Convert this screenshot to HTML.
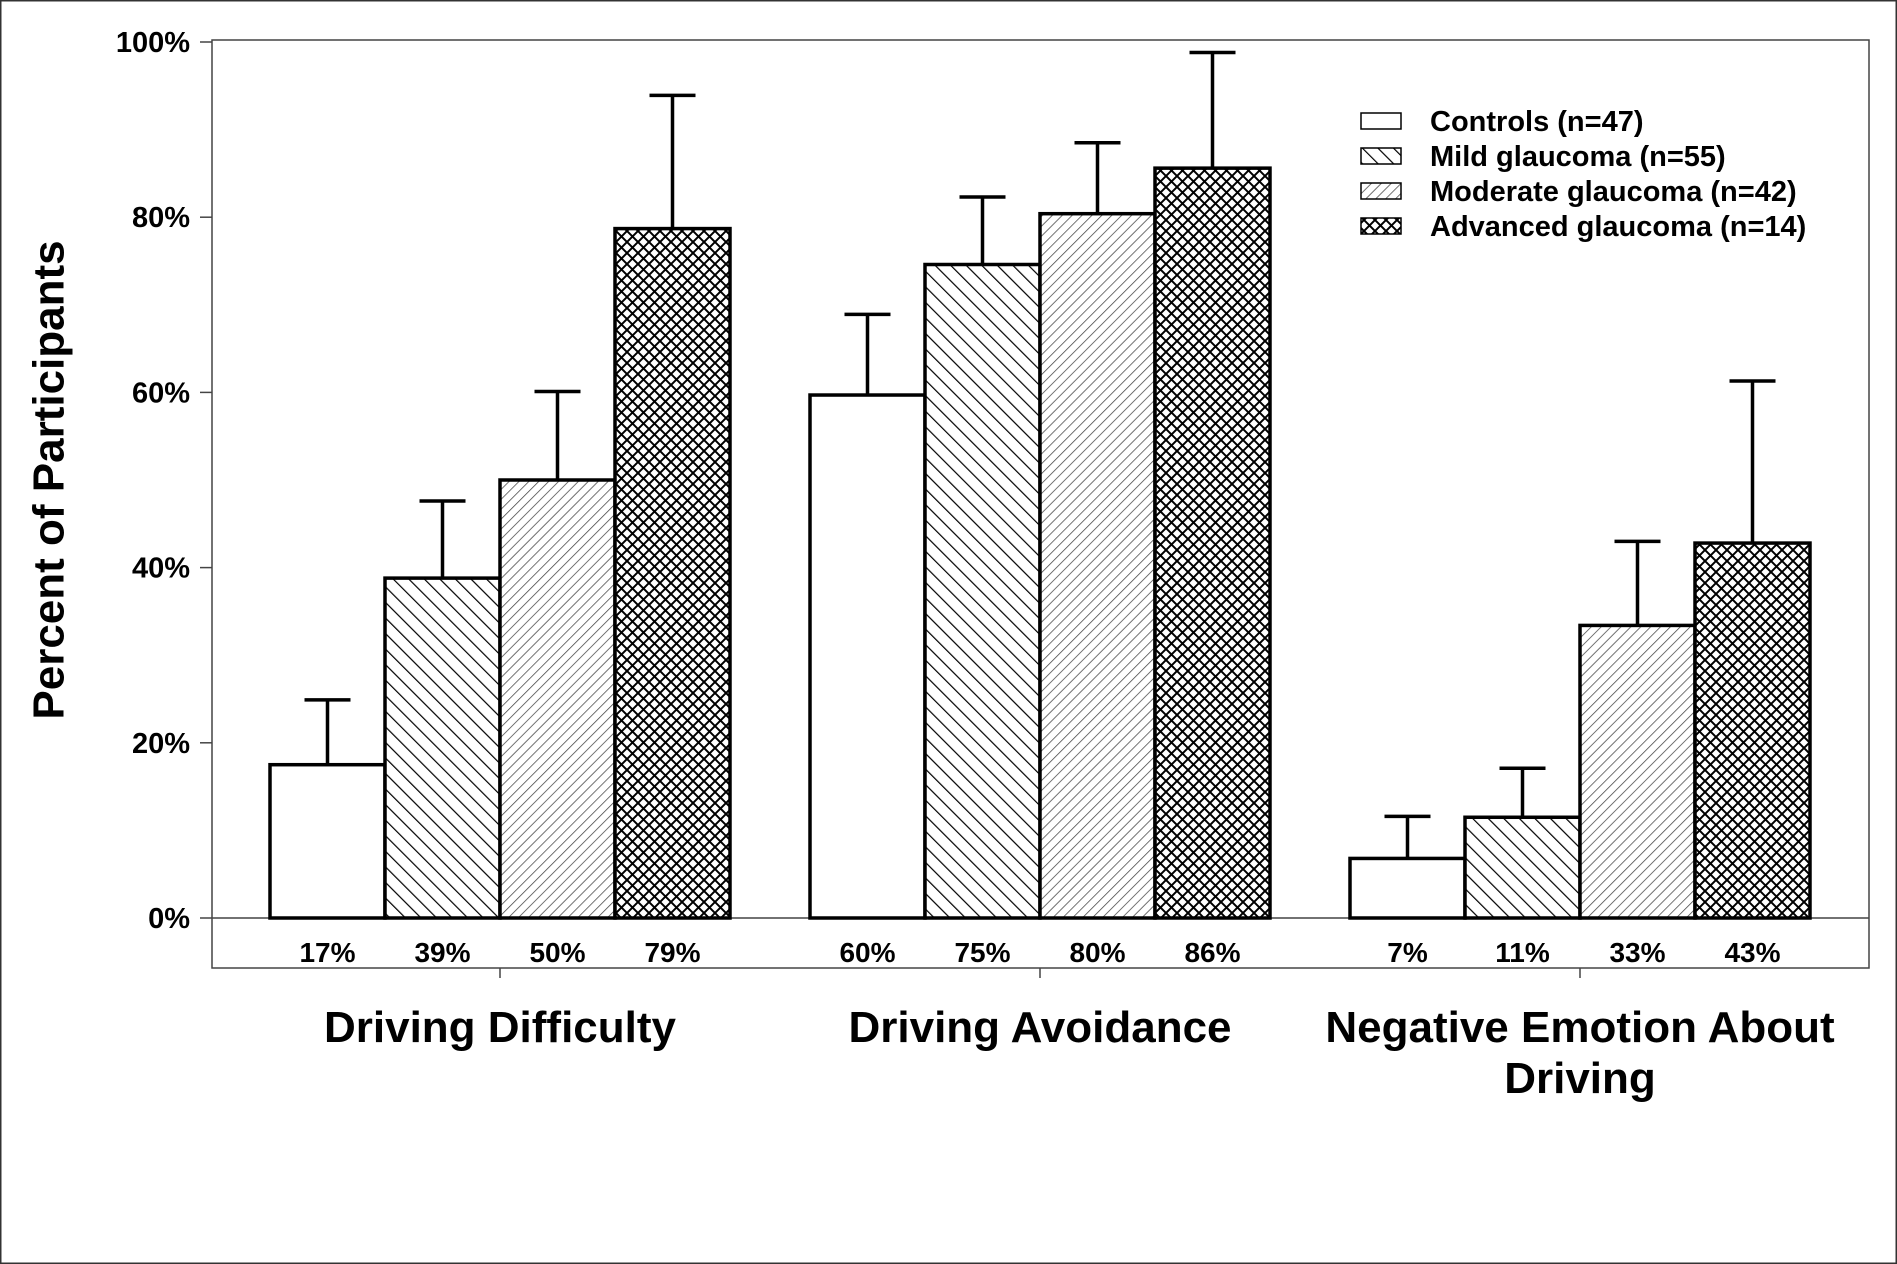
<!DOCTYPE html>
<html><head><meta charset="utf-8"><style>
html,body{margin:0;padding:0;background:#fff}
svg{display:block;font-family:"Liberation Sans",Arial,sans-serif}
</style></head><body>
<svg id="chart" width="1897" height="1264" viewBox="0 0 1897 1264" xmlns="http://www.w3.org/2000/svg">
<defs>
<pattern id="p-mild" patternUnits="userSpaceOnUse" width="11" height="11" patternTransform="rotate(-45)"><rect width="11" height="11" fill="#fff"/><line x1="0" y1="0" x2="0" y2="11" stroke="#000" stroke-width="2.4"/></pattern>
<pattern id="p-mod" patternUnits="userSpaceOnUse" width="7" height="7" patternTransform="rotate(45)"><rect width="7" height="7" fill="#fff"/><line x1="0" y1="0" x2="0" y2="7" stroke="#444" stroke-width="1.5"/></pattern>
<pattern id="p-adv" patternUnits="userSpaceOnUse" width="11" height="11"><rect width="11" height="11" fill="#fff"/><path d="M0 0 L11 11 M11 0 L0 11" stroke="#000" stroke-width="2"/></pattern>
</defs>
<rect x="0.5" y="0.5" width="1896" height="1263" fill="#fff" stroke="#333" stroke-width="2"/>
<rect x="212" y="40" width="1657" height="928" fill="none" stroke="#444" stroke-width="1.5"/>
<line x1="212" y1="918" x2="1869" y2="918" stroke="#444" stroke-width="1.5"/>
<g id="yaxis"></g>
<g id="bars"></g>
<text x="52" y="480" transform="rotate(-90 52 480)" text-anchor="middle" dominant-baseline="middle" font-size="44" font-weight="bold">Percent of Participants</text>
<g id="legend"></g>
</svg>
<script>
const categories = [["Driving Difficulty"],["Driving Avoidance"],["Negative Emotion About","Driving"]];
const seriesNames = ["Controls (n=47)","Mild glaucoma (n=55)","Moderate glaucoma (n=42)","Advanced glaucoma (n=14)"];
const difficulty = [17.5, 38.8, 50.0, 78.7];
const avoidance = [59.7, 74.6, 80.4, 85.6];
const emotion = [6.8, 11.5, 33.4, 42.8];
const errDifficulty = [24.9, 47.6, 60.1, 93.9];
const errAvoidance = [68.9, 82.3, 88.5, 98.8];
const errEmotion = [11.6, 17.1, 43.0, 61.3];
const valueLabels = [["17%","39%","50%","79%"],["60%","75%","80%","86%"],["7%","11%","33%","43%"]];
const yTicks = [0,20,40,60,80,100];

const NS="http://www.w3.org/2000/svg";
const fills=["#fff","url(#p-mild)","url(#p-mod)","url(#p-adv)"];
const y=v=>918-v*8.76;
const groupStart=[270,810,1350], bw=115;
function mk(tag,attrs,parent){const e=document.createElementNS(NS,tag);for(const k in attrs)e.setAttribute(k,attrs[k]);parent.appendChild(e);return e;}
const yaxis=document.getElementById('yaxis');
yTicks.forEach(t=>{
  const l=mk('line',{x1:200,x2:212,y1:y(t),y2:y(t),stroke:'#444','stroke-width':1.5},yaxis);
  
  
  const tx=mk('text',{x:190,y:y(t)+10,'text-anchor':'end','font-size':29,'font-weight':'bold'},yaxis);
  tx.textContent=t+'%';
  
  
});
const bars=document.getElementById('bars');
const vals=[difficulty,avoidance,emotion], errs=[errDifficulty,errAvoidance,errEmotion];
vals.forEach((arr,g)=>{
  arr.forEach((v,i)=>{
    const x=groupStart[g]+i*bw, cx=x+bw/2;
    const e=mk('line',{x1:cx,x2:cx,y1:y(errs[g][i]),y2:y(v),stroke:'#000','stroke-width':3.5},bars);
    
    
    const c=mk('line',{x1:cx-23,x2:cx+23,y1:y(errs[g][i]),y2:y(errs[g][i]),stroke:'#000','stroke-width':3.5},bars);
    
    
    const r=mk('rect',{x:x,y:y(v),width:bw,height:918-y(v),fill:fills[i],stroke:'#000','stroke-width':3.5},bars);
    
    
    const t=mk('text',{x:cx,y:962,'text-anchor':'middle','font-size':28,'font-weight':'bold'},bars);
    t.textContent=valueLabels[g][i];
    
    
  });
  const gc=groupStart[g]+2*bw;
  const tk=mk('line',{x1:gc,x2:gc,y1:968,y2:978,stroke:'#444','stroke-width':1.5},bars);
  
  
  categories[g].forEach((ln,j)=>{
    const ct=mk('text',{x:gc,y:1042+j*51,'text-anchor':'middle','font-size':44,'font-weight':'bold'},bars);
    ct.textContent=ln;
    
    
  });
});
const legend=document.getElementById('legend');
seriesNames.forEach((n,i)=>{
  const yy=121+i*35;
  const r=mk('rect',{x:1361,y:yy-8,width:40,height:16,fill:fills[i],stroke:'#000','stroke-width':1.5},legend);
  
  
  const t=mk('text',{x:1430,y:yy+10,'font-size':29,'font-weight':'bold'},legend);
  t.textContent=n;
  
  
});
</script>
</body></html>
